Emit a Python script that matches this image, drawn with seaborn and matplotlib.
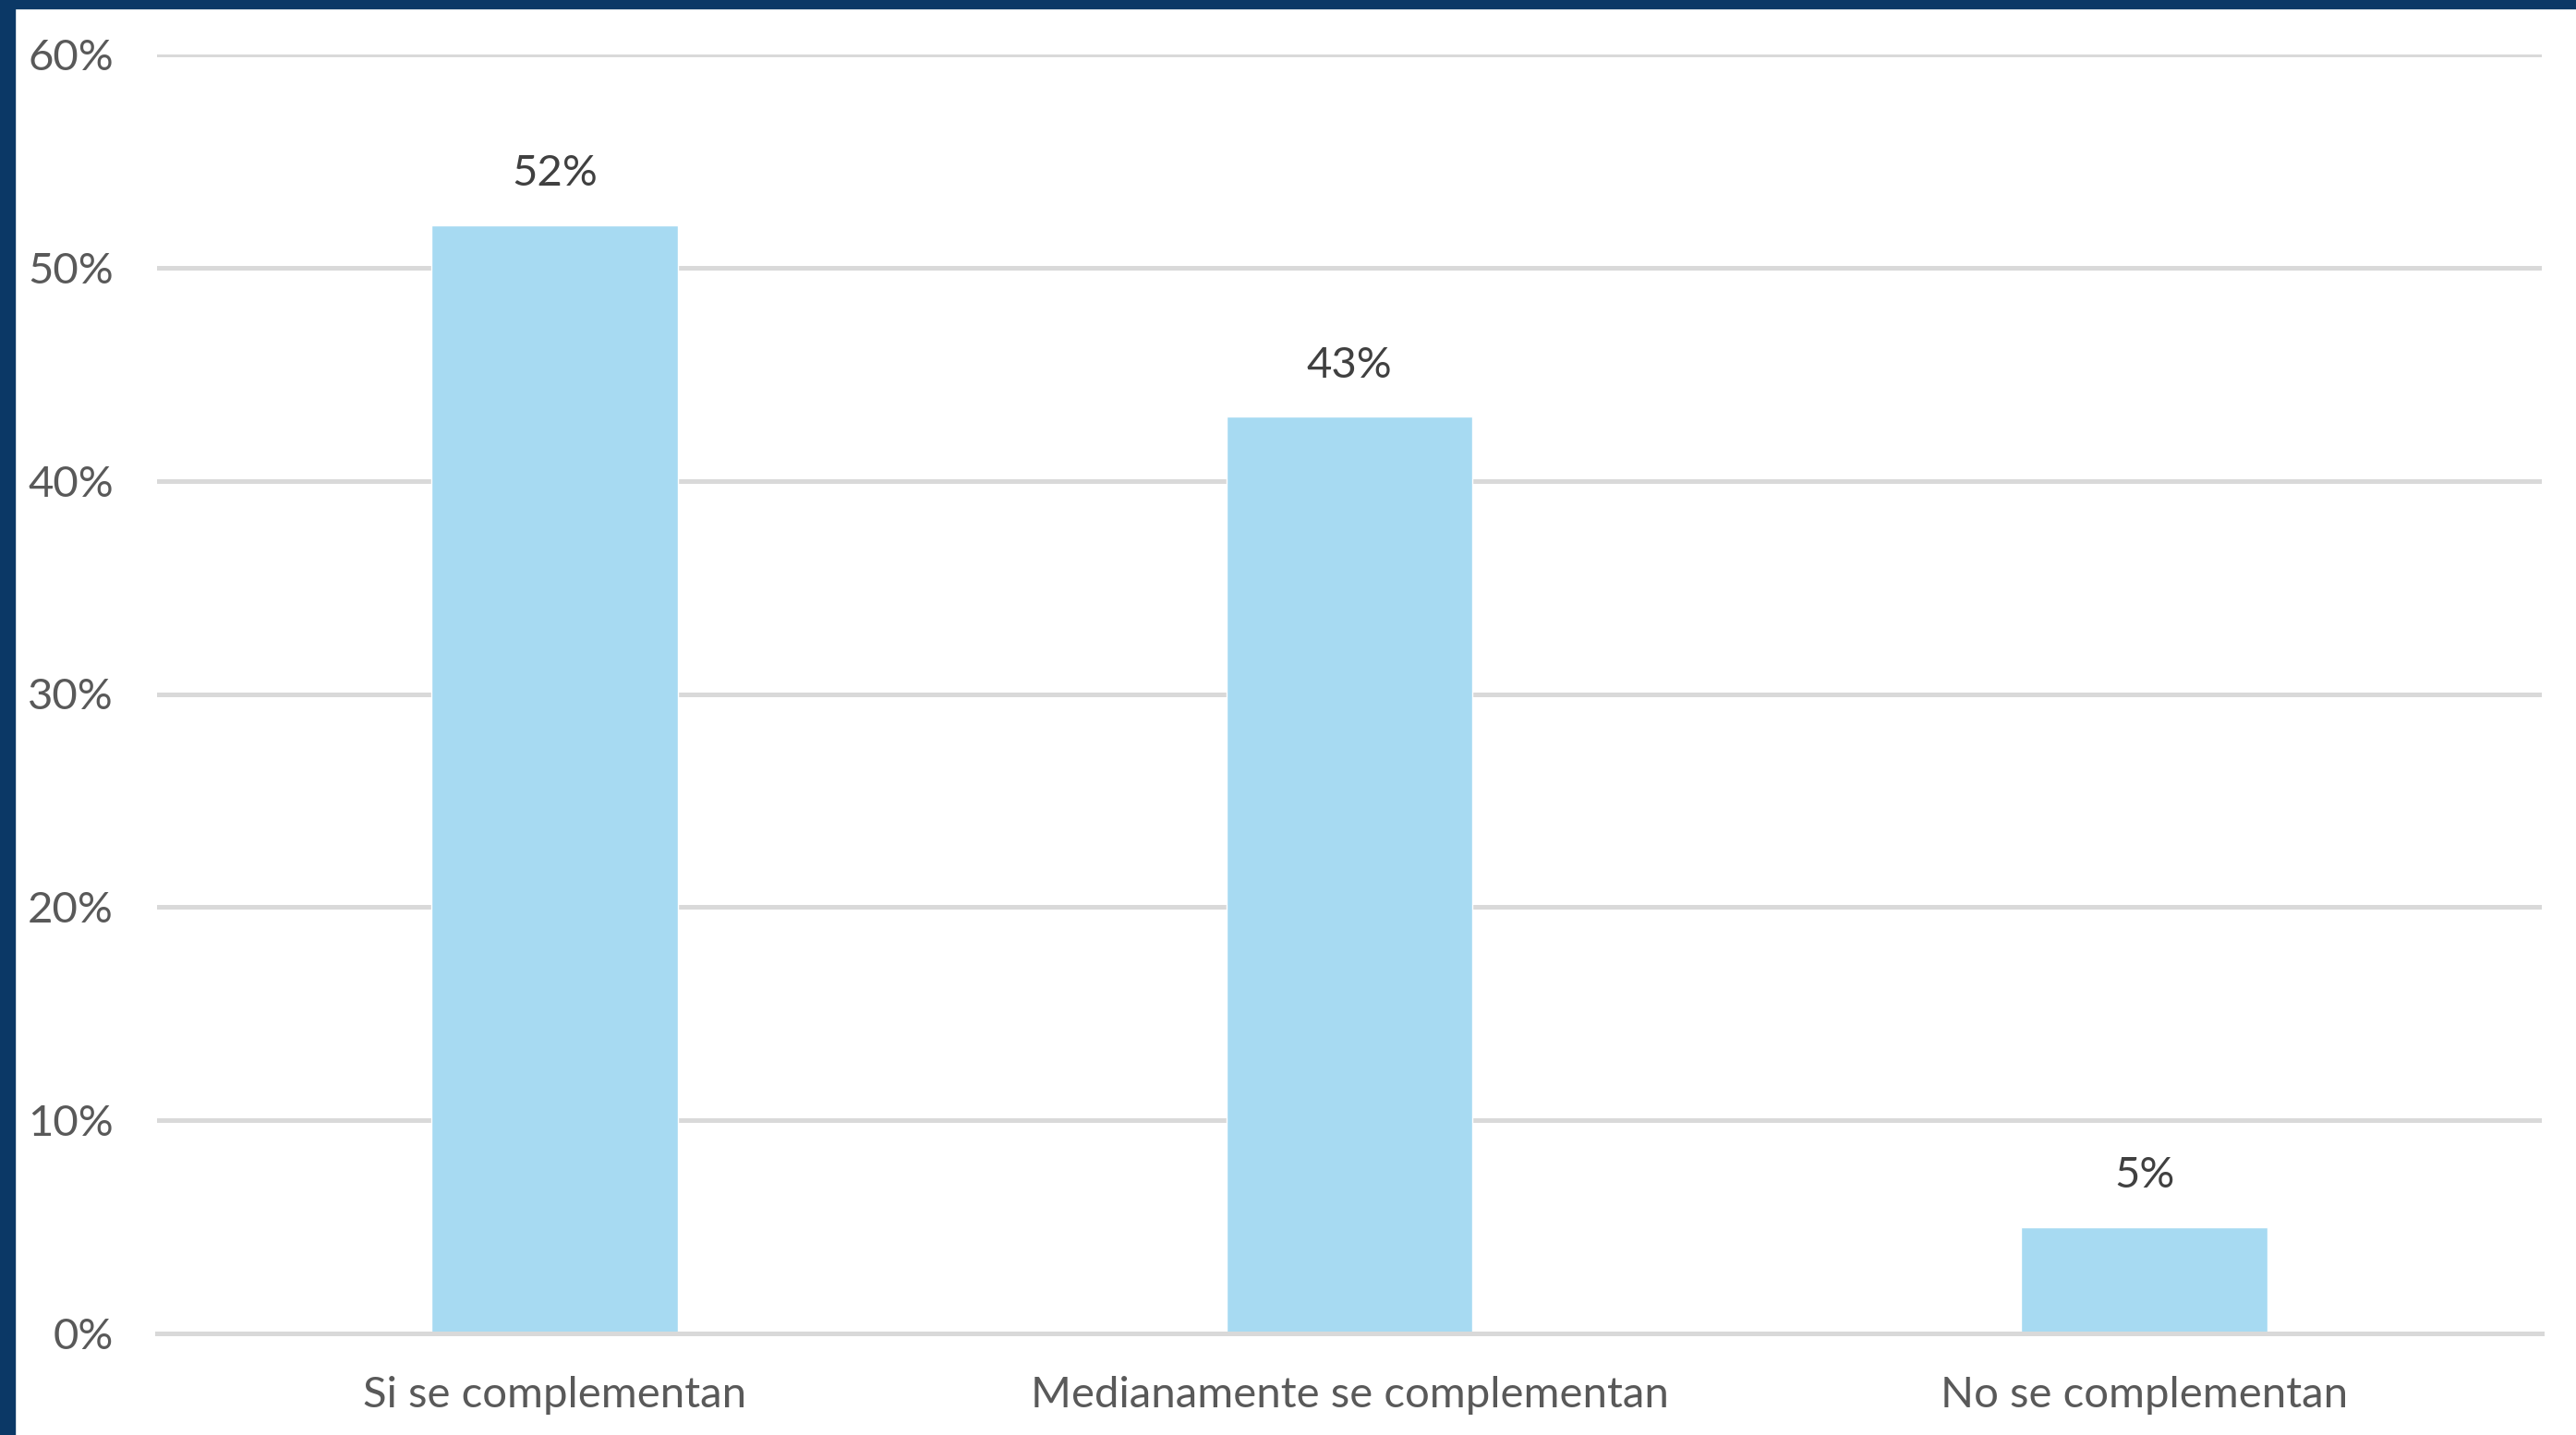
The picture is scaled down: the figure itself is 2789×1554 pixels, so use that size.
import matplotlib
matplotlib.use("Agg")
import matplotlib.pyplot as plt
import seaborn as sns
import pandas as pd
from matplotlib.patches import Rectangle
from matplotlib.ticker import FuncFormatter

categories = ["Si se complementan", "Medianamente se complementan", "No se complementan"]
values = [52, 43, 5]
y_ticks = [0, 10, 20, 30, 40, 50, 60]

BAR_COLOR = "#A7DAF2"
GRID_COLOR = "#D9D9D9"
BORDER_COLOR = "#0B3866"


def main():
    sns.set_style("white")
    plt.rcParams["font.family"] = ["Lato", "DejaVu Sans"]

    df = pd.DataFrame({"categoria": categories, "valor": values})

    W, H = 2789, 1554
    fig = plt.figure(figsize=(W / 100, H / 100), dpi=100)
    ax = fig.add_axes([170 / W, 1 - 1444 / H, (2752 - 170) / W, (1444 - 59) / H])

    sns.barplot(data=df, x="categoria", y="valor", color=BAR_COLOR,
                width=0.31, saturation=1, ax=ax, zorder=3)

    ax.set_ylim(0, 60)
    ax.set_yticks(y_ticks)
    ax.yaxis.set_major_formatter(FuncFormatter(lambda v, p: f"{v:.0f}%"))
    ax.set_xlabel("")
    ax.set_ylabel("")

    ax.grid(axis="y", color=GRID_COLOR, linewidth=3.6, zorder=0)
    for s in ["left", "right", "top"]:
        ax.spines[s].set_visible(False)
    ax.spines["bottom"].set_color(GRID_COLOR)
    ax.spines["bottom"].set_linewidth(3.6)
    ax.spines["bottom"].set_zorder(4)

    ax.tick_params(axis="y", length=0, pad=34, labelsize=34, labelcolor="#595959")
    ax.tick_params(axis="x", length=0, pad=33, labelsize=34, labelcolor="#595959")

    for i, v in enumerate(values):
        ax.annotate(f"{v}%", (i, v), xytext=(0, 25), textcoords="offset points",
                    ha="center", va="bottom", fontsize=34, color="#404040")

    # dark blue frame on the left and top edges
    fig.patches.append(Rectangle((0, 0), 16 / W, 1, transform=fig.transFigure,
                                 color=BORDER_COLOR, zorder=10))
    fig.patches.append(Rectangle((0, 1 - 9 / H), 1, 9 / H, transform=fig.transFigure,
                                 color=BORDER_COLOR, zorder=10))

    fig.savefig("out.png", dpi=100)


if __name__ == "__main__":
    main()
